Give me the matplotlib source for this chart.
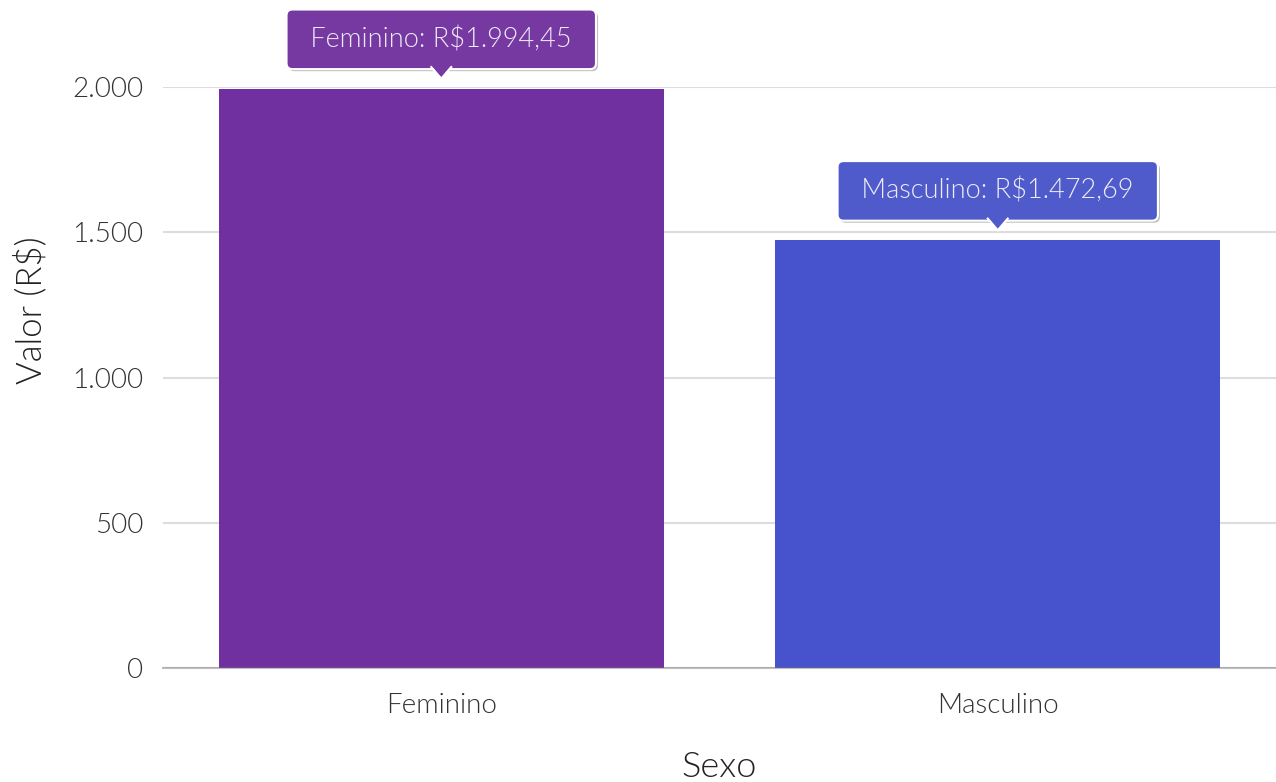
import matplotlib
matplotlib.use("Agg")
import matplotlib.pyplot as plt
import matplotlib.transforms as mtransforms
from matplotlib.patches import Polygon
from matplotlib.lines import Line2D
import matplotlib.patheffects as pe
from matplotlib.ticker import FuncFormatter

categorias = ["Feminino", "Masculino"]
valores = [1994.45, 1472.69]
cores_barras = ["#7030A0", "#4753CC"]
cores_tooltip = ["#7539A1", "#4F5ACB"]
rotulos = ["Feminino: R$1.994,45", "Masculino: R$1.472,69"]

plt.rcParams["font.family"] = ["Lato", "DejaVu Sans"]
plt.rcParams["font.weight"] = 300
plt.rcParams["axes.labelweight"] = 300

fig = plt.figure(figsize=(12.76, 7.82), dpi=100)
ax = fig.add_axes([163 / 1276, 114 / 782, 1113 / 1276, 581 / 782])

x = range(len(categorias))
ax.bar(x, valores, width=0.8, color=cores_barras, zorder=2)

ax.set_xlim(-0.5, 1.5)
ax.set_ylim(0, 2000)
ax.set_yticks([0, 500, 1000, 1500, 2000])
ax.yaxis.set_major_formatter(FuncFormatter(lambda v, p: f"{int(v):,}".replace(",", ".")))
ax.set_xticks(list(x))
ax.set_xticklabels(categorias)
ax.tick_params(axis="y", length=0, pad=14, labelsize=20, labelcolor="#333333")
ax.tick_params(axis="x", length=0, pad=18, labelsize=20, labelcolor="#333333")
ax.grid(axis="y", color="#dddddd", linewidth=1.5, zorder=0)
ax.set_axisbelow(True)
for s in ["top", "right", "left"]:
    ax.spines[s].set_visible(False)
ax.spines["bottom"].set_color((0.45, 0.45, 0.45, 0.45))
ax.spines["bottom"].set_linewidth(1.5)
ax.spines["bottom"].set_zorder(3)

ax.set_ylabel("Valor (R$)", fontsize=25, color="#222222", va="center")
ax.yaxis.set_label_coords(-0.1195, 0.616)
ax.set_xlabel("Sexo", fontsize=26, color="#222222", labelpad=24)

# tooltips
for i, v in enumerate(valores):
    t = ax.annotate(" " + rotulos[i] + " ", xy=(i, v), xytext=(0, 35.5), textcoords="offset points",
                    ha="center", va="center", fontsize=19.5, color="#f0ebf7", zorder=6,
                    annotation_clip=False,
                    bbox=dict(boxstyle="round,pad=0.62,rounding_size=0.22", fc=cores_tooltip[i],
                              ec="white", lw=1.5))
    t.get_bbox_patch().set_path_effects([pe.SimplePatchShadow(offset=(1.5, -1.5), shadow_rgbFace="#000000", alpha=0.25),
                                         pe.Normal()])
    tr = mtransforms.IdentityTransform() + mtransforms.ScaledTranslation(i, v, ax.transData)
    tri = Polygon([(-11, 24.5), (11, 24.5), (0, 10)], closed=True, fc=cores_tooltip[i], ec="none",
                  transform=tr, zorder=7, clip_on=False)
    ax.add_patch(tri)
    for xs, ys in [((-10, 0), (21.6, 10)), ((10, 0), (21.6, 10))]:
        ax.add_line(Line2D(xs, ys, color="white", lw=1.5, transform=tr, zorder=7, clip_on=False))

fig.savefig("out.png", dpi=100)
